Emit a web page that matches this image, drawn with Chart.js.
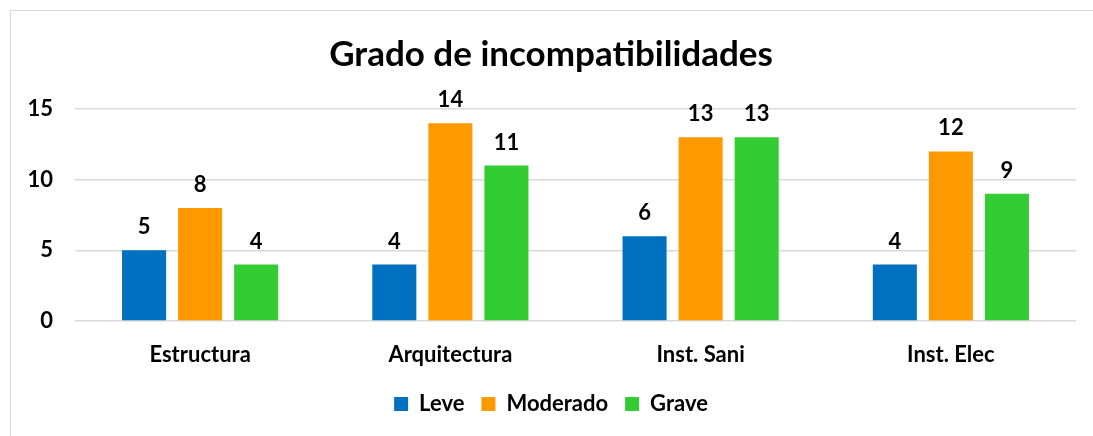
<!DOCTYPE html>
<html>
<head>
<meta charset="utf-8">
<script src="https://cdn.jsdelivr.net/npm/chart.js@4"></script>
<style>
  html, body { margin: 0; padding: 0; background: #fff; overflow: hidden; }
  #frame { position: absolute; left: 10px; top: 10px; width: 1100px; height: 440px; border: 1px solid #d9d9d9; }
  #wrap { position: absolute; left: 0; top: 0; width: 1093px; height: 436px; }
</style>
</head>
<body>
<div id="frame"></div>
<div id="wrap"><canvas id="chart"></canvas></div>
<script>
const categories = ['Estructura', 'Arquitectura', 'Inst. Sani', 'Inst. Elec'];
const leve = [5, 4, 6, 4];
const moderado = [8, 14, 13, 12];
const grave = [4, 11, 13, 9];
const yTicks = [0, 5, 10, 15];

const FONT = 'Lato, "Open Sans", sans-serif';
Chart.defaults.font.family = FONT;
Chart.defaults.font.weight = 'bold';
Chart.defaults.color = '#000';

// values above the bars
const barLabels = {
    id: 'barLabels',
    afterDatasetsDraw(chart) {
        const ctx = chart.ctx;
        ctx.save();
        ctx.font = 'bold 22px ' + FONT;
        ctx.fillStyle = '#000';
        ctx.textAlign = 'center';
        ctx.textBaseline = 'middle';
        chart.data.datasets.forEach((ds, i) => {
            chart.getDatasetMeta(i).data.forEach((bar, j) => {
                ctx.fillText(ds.data[j], bar.x, bar.y - 23);
            });
        });
        ctx.restore();
    }
};

new Chart(document.getElementById('chart').getContext('2d'), {
    type: 'bar',
    data: {
        labels: categories,
        datasets: [
            {label: 'Leve', data: leve, backgroundColor: '#0070C0'},
            {label: 'Moderado', data: moderado, backgroundColor: '#FF9900'},
            {label: 'Grave', data: grave, backgroundColor: '#33CC33'},
        ],
    },
    options: {
        responsive: true,
        maintainAspectRatio: false,
        animation: false,
        categoryPercentage: 0.672,
        barPercentage: 0.786,
        layout: {padding: {top: 10, right: 17, left: 26, bottom: 11}},
        plugins: {
            title: {
                display: true,
                text: 'Grado de incompatibilidades',
                font: {size: 35, weight: 'bold'},
                color: '#000',
                padding: {top: 24, bottom: 33},
            },
            legend: {
                position: 'bottom',
                labels: {
                    boxWidth: 14,
                    boxHeight: 14,
                    padding: 17,
                    font: {size: 22, weight: 'bold'},
                },
            },
            tooltip: {enabled: false},
        },
        scales: {
            x: {
                grid: {display: false, drawTicks: false},
                border: {display: false},
                ticks: {font: {size: 22, weight: 'bold'}, padding: 21},
                afterFit: s => { s.height = 55; },
            },
            y: {
                min: 0,
                max: 15,
                grid: {color: '#d9d9d9', lineWidth: 1.5, drawTicks: false},
                border: {display: false},
                afterBuildTicks: s => { s.ticks = yTicks.map(v => ({value: v})); },
                ticks: {font: {size: 22, weight: 'bold'}, padding: 22},
                afterFit: s => { s.width = 49; },
            },
        },
    },
    plugins: [barLabels],
});
</script>
</body>
</html>
